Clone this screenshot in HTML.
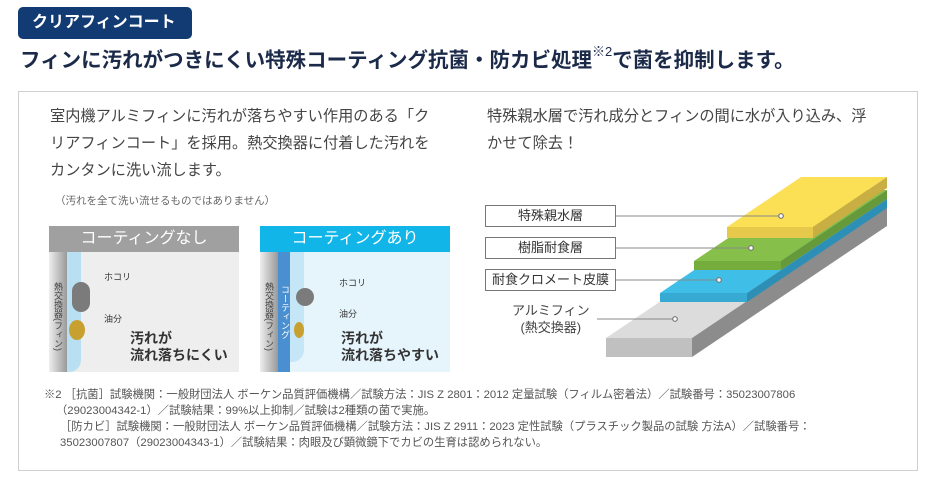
<!DOCTYPE html>
<html><head><meta charset="utf-8"><style>
*{margin:0;padding:0;box-sizing:border-box}
body{width:930px;height:483px;background:#fff;position:relative;overflow:hidden;font-family:"Liberation Sans","Noto Sans CJK JP",sans-serif;color:#444}
.a{position:absolute;white-space:nowrap}
.fn{font-size:11.3px;color:#555;letter-spacing:0}
.lb{position:absolute;left:485px;width:131px;height:22px;border:1px solid #777;background:#fff;font-size:13px;color:#333;text-align:center;line-height:20px}
</style></head><body>
<div class="a" style="left:18px;top:7px;width:174px;height:32px;background:#123a73;border-radius:5px;color:#fff;font-weight:bold;font-size:16px;line-height:32px;padding-left:14px">クリアフィンコート</div>
<div class="a" style="left:20px;top:43px;font-size:20.5px;font-weight:bold;color:#1c2a4a">フィンに汚れがつきにくい特殊コーティング抗菌・防カビ処理<sup style="font-size:13px;font-weight:normal;position:relative;top:-3px">※2</sup>で菌を抑制します。</div>
<div class="a" style="left:18px;top:91px;width:900px;height:380px;border:1px solid #d0d0d0"></div>
<div class="a" style="left:50px;top:103px;font-size:15.2px;line-height:27px;color:#444">室内機アルミフィンに汚れが落ちやすい作用のある「ク<br>リアフィンコート」を採用。熱交換器に付着した汚れを<br>カンタンに洗い流します。</div>
<div class="a" style="left:55px;top:193px;font-size:10.5px;color:#666">（汚れを全て洗い流せるものではありません）</div>
<div class="a" style="left:487px;top:103px;font-size:15.2px;line-height:27px;color:#444">特殊親水層で汚れ成分とフィンの間に水が入り込み、浮<br>かせて除去！</div>

<!-- panel 1 -->
<div class="a" style="left:49px;top:226px;width:190px;height:146px;background:#eeeeee"></div>
<div class="a" style="left:49px;top:226px;width:190px;height:26px;background:#a0a0a0;color:#fff;font-size:16px;text-align:center;line-height:26px">コーティングなし</div>
<div class="a" style="left:49px;top:252px;width:18px;height:120px;background:linear-gradient(90deg,#eee,#999)"></div>
<div class="a" style="left:67px;top:252px;width:14px;height:120px;background:#b9dff3;border-radius:0 0 12px 0"></div>
<div class="a" style="left:72px;top:282px;width:18px;height:30px;background:#7b7b7b;border-radius:9px"></div>
<div class="a" style="left:69px;top:320px;width:16px;height:20px;background:#c8a030;border-radius:50%"></div>
<div class="a" style="left:52px;top:282px;font-size:9px;writing-mode:vertical-rl;color:#444">熱交換器(フィン)</div>
<div class="a" style="left:104px;top:270px;font-size:9px;color:#333">ホコリ</div>
<div class="a" style="left:104px;top:312px;font-size:9px;color:#333">油分</div>
<div class="a" style="left:130px;top:330px;font-size:14px;font-weight:bold;line-height:17px;color:#333">汚れが<br>流れ落ちにくい</div>

<!-- panel 2 -->
<div class="a" style="left:260px;top:226px;width:190px;height:146px;background:#e6f5fc"></div>
<div class="a" style="left:260px;top:226px;width:190px;height:26px;background:#12b5e8;color:#fff;font-size:16px;text-align:center;line-height:26px">コーティングあり</div>
<div class="a" style="left:260px;top:252px;width:18px;height:120px;background:linear-gradient(90deg,#eee,#999)"></div>
<div class="a" style="left:278px;top:252px;width:12px;height:120px;background:#4a8fd0"></div>
<div class="a" style="left:290px;top:252px;width:14px;height:110px;background:#c4e6f7;border-radius:0 0 12px 0"></div>
<div class="a" style="left:296px;top:288px;width:18px;height:18px;background:#7b7b7b;border-radius:9px"></div>
<div class="a" style="left:294px;top:322px;width:10px;height:16px;background:#c8a030;border-radius:50%"></div>
<div class="a" style="left:263px;top:282px;font-size:9px;writing-mode:vertical-rl;color:#444">熱交換器(フィン)</div>
<div class="a" style="left:279px;top:285px;font-size:9px;writing-mode:vertical-rl;color:#fff">コーティング</div>
<div class="a" style="left:339px;top:276px;font-size:9px;color:#333">ホコリ</div>
<div class="a" style="left:339px;top:307px;font-size:9px;color:#333">油分</div>
<div class="a" style="left:341px;top:330px;font-size:14px;font-weight:bold;line-height:17px;color:#333">汚れが<br>流れ落ちやすい</div>

<!-- layers -->
<svg class="a" style="left:0;top:0" width="930" height="483">
<polygon points="606,338 692,338 887,207 801,207" fill="#dcdcdc"/>
<polygon points="606,338 692,338 692,357 606,357" fill="#c0c0c0"/>
<polygon points="692,338 887,207 887,226 692,357" fill="#8c8c8c"/>
<polygon points="660,293 747,293 887,199 800,199" fill="#3fbfe8"/>
<polygon points="660,293 747,293 747,302 660,302" fill="#36aad3"/>
<polygon points="747,293 887,199 887,208 747,302" fill="#2d8fb5"/>
<polygon points="694,261 781,261 887,190 800,190" fill="#86c04a"/>
<polygon points="694,261 781,261 781,270 694,270" fill="#74ad3b"/>
<polygon points="781,261 887,190 887,199 781,270" fill="#66993a"/>
<polygon points="727,227 813,227 887,177 801,177" fill="#fbdf55"/>
<polygon points="727,227 813,227 813,238 727,238" fill="#e6c84a"/>
<polygon points="813,227 887,177 887,188 813,238" fill="#c9ae44"/>
<g stroke="#888" stroke-width="1"><line x1="616" y1="216" x2="781" y2="216"/><line x1="616" y1="248" x2="751" y2="248"/><line x1="616" y1="280" x2="719" y2="280"/><line x1="597" y1="319" x2="675" y2="319"/></g>
<g fill="#fff" stroke="#777" stroke-width="1.2"><circle cx="781" cy="216" r="2.3"/><circle cx="751" cy="248" r="2.3"/><circle cx="719" cy="280" r="2.3"/><circle cx="675" cy="319" r="2.3"/></g>
</svg>
<div class="lb" style="top:205px">特殊親水層</div>
<div class="lb" style="top:237px">樹脂耐食層</div>
<div class="lb" style="top:269px">耐食クロメート皮膜</div>
<div class="a" style="left:512px;top:302px;font-size:13px;line-height:17px;color:#444;text-align:center">アルミフィン<br>(熱交換器)</div>

<div class="a fn" style="left:44px;top:386px">※2 ［抗菌］試験機関：一般財団法人 ボーケン品質評価機構／試験方法：JIS Z 2801：2012 定量試験（フィルム密着法）／試験番号：35023007806</div>
<div class="a fn" style="left:56px;top:402px">（29023004342-1）／試験結果：99%以上抑制／試験は2種類の菌で実施。</div>
<div class="a fn" style="left:60px;top:418px">［防カビ］試験機関：一般財団法人 ボーケン品質評価機構／試験方法：JIS Z 2911：2023 定性試験（プラスチック製品の試験 方法A）／試験番号：</div>
<div class="a fn" style="left:60px;top:434px">35023007807（29023004343-1）／試験結果：肉眼及び顕微鏡下でカビの生育は認められない。</div>
</body></html>
